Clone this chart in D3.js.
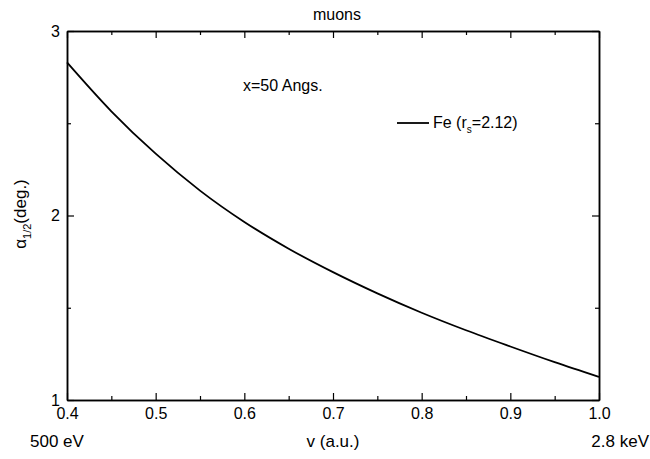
<!DOCTYPE html>
<html><head><meta charset="utf-8">
<script src="https://cdn.jsdelivr.net/npm/d3@7"></script>
<style>
body{margin:0;background:#fff;}
svg{display:block;font-family:"Liberation Sans",Arial,sans-serif;}
</style></head>
<body><svg id="c" width="650" height="459"></svg>
<script>
const velocity = [0.40,0.45,0.50,0.55,0.60,0.65,0.70,0.75,0.80,0.85,0.90,0.95,1.00];
const alphaHalf = [2.83,2.565,2.335,2.135,1.965,1.82,1.693,1.578,1.473,1.378,1.29,1.205,1.125];
const xTicks = [0.4,0.5,0.6,0.7,0.8,0.9,1.0];
const xMinor = [0.45,0.55,0.65,0.75,0.85,0.95];
const yTicks = [1,2,3];
const yMinor = [1.5,2.5];

const svg = d3.select("#c");
const m = {l:67,r:51,t:31,b:59};
const W = 650, H = 459;
const x = d3.scaleLinear().domain([0.4,1.0]).range([m.l, W-m.r]);
const y = d3.scaleLinear().domain([1,3]).range([H-m.b, m.t]);

function style(g){
  g.selectAll("path.domain").attr("stroke","#000").attr("stroke-width",1.5);
  g.selectAll(".tick line").attr("stroke","#000").attr("stroke-width",1.2);
  g.selectAll(".tick text").attr("fill","#000").style("font-size","16px").style("font-family","Liberation Sans, Arial, sans-serif");
}
const fmt = d => d3.format(".1f")(d);
// bottom
svg.append("g").attr("transform",`translate(0,${H-m.b})`)
  .call(d3.axisBottom(x).tickValues(xTicks).tickFormat(fmt).tickSizeInner(-7).tickSizeOuter(0).tickPadding(8)).call(style);
svg.append("g").attr("transform",`translate(0,${H-m.b})`)
  .call(d3.axisBottom(x).tickValues(xMinor).tickFormat("").tickSizeInner(-4).tickSizeOuter(0)).call(style);
// top
svg.append("g").attr("transform",`translate(0,${m.t})`)
  .call(d3.axisTop(x).tickValues(xTicks).tickFormat("").tickSizeInner(-7).tickSizeOuter(0)).call(style);
svg.append("g").attr("transform",`translate(0,${m.t})`)
  .call(d3.axisTop(x).tickValues(xMinor).tickFormat("").tickSizeInner(-4).tickSizeOuter(0)).call(style);
// left
svg.append("g").attr("transform",`translate(${m.l},0)`)
  .call(d3.axisLeft(y).tickValues(yTicks).tickFormat(d3.format("d")).tickSizeInner(-7).tickSizeOuter(0).tickPadding(7)).call(style);
svg.append("g").attr("transform",`translate(${m.l},0)`)
  .call(d3.axisLeft(y).tickValues(yMinor).tickFormat("").tickSizeInner(-4).tickSizeOuter(0)).call(style);
// right
svg.append("g").attr("transform",`translate(${W-m.r},0)`)
  .call(d3.axisRight(y).tickValues(yTicks).tickFormat("").tickSizeInner(-7).tickSizeOuter(0)).call(style);
svg.append("g").attr("transform",`translate(${W-m.r},0)`)
  .call(d3.axisRight(y).tickValues(yMinor).tickFormat("").tickSizeInner(-4).tickSizeOuter(0)).call(style);

// curve
const line = d3.line().x((d,i)=>x(velocity[i])).y(d=>y(d)).curve(d3.curveMonotoneX);
svg.append("path").datum(alphaHalf).attr("d",line).attr("fill","none").attr("stroke","#000").attr("stroke-width",1.8);

// texts
svg.append("text").attr("x",337).attr("y",20).attr("text-anchor","middle").style("font-size","16px").text("muons");
svg.append("text").attr("x",243).attr("y",91).style("font-size","16px").text("x=50 Angs.");
svg.append("text").attr("x",333).attr("y",447).attr("text-anchor","middle").style("font-size","17px").text("v (a.u.)");
svg.append("text").attr("x",30).attr("y",447).style("font-size","17px").text("500 eV");
svg.append("text").attr("x",649).attr("y",447).attr("text-anchor","end").style("font-size","17px").text("2.8 keV");

// legend
svg.append("line").attr("x1",397).attr("x2",429).attr("y1",123).attr("y2",123).attr("stroke","#000").attr("stroke-width",1.8);
const lt = svg.append("text").attr("x",433).attr("y",128).style("font-size","16px");
lt.append("tspan").text("Fe (r");
lt.append("tspan").attr("dy",5).style("font-size","10px").text("s");
lt.append("tspan").attr("dy",-5).text("=2.12)");

// y label
const yl = svg.append("text").attr("transform","translate(26,214) rotate(-90)").attr("text-anchor","middle").style("font-size","17px");
yl.append("tspan").text("α");
yl.append("tspan").attr("dy",5).style("font-size","11px").text("1/2");
yl.append("tspan").attr("dy",-5).text("(deg.)");
</script></body></html>
